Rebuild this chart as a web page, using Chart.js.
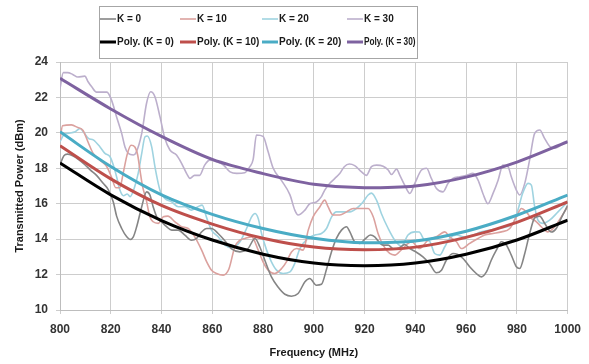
<!DOCTYPE html>
<html>
<head>
<meta charset="utf-8">
<script src="https://cdn.jsdelivr.net/npm/chart.js@4.4.7/dist/chart.umd.min.js"></script>
<style>
    html, body { margin: 0; padding: 0; background: #ffffff; }
    #wrap { width: 589px; height: 364px; }
</style>
</head>
<body>
<div id="wrap"><canvas id="power"></canvas></div>
<script>

// Measured transmitted power (dBm) versus frequency (MHz), one pair of arrays per K value.
const k0Freq  = [800, 801.5, 803, 805, 807.2, 809.8, 812, 814.4, 817, 819, 821, 822.3, 824.3, 826.3, 827.6, 828.9, 830.2, 832.2, 834.1, 835.4, 836.7, 838.1, 840, 842, 844, 846.6, 849.2, 851.8, 853.8, 855.8, 857.8, 859.7, 862.3, 865, 867.6, 870.9, 874.1, 876.8, 878.7, 880.7, 883.3, 885.9, 888.6, 891.2, 893.8, 896.5, 898.4, 901, 903, 905, 907, 908.9, 910.9, 912.9, 914.2, 916.1, 918.1, 920.1, 922.3, 924, 925.3, 927.3, 929.3, 931.2, 933.5, 935.8, 937.8, 940, 943, 945.7, 948.3, 950.3, 952.2, 954.8, 956.5, 958.8, 961.4, 964, 966, 968, 969.9, 971.9, 973.9, 975.9, 977.8, 979.8, 981.1, 983.1, 985, 987, 989, 990.9, 993.6, 995.5, 997.5, 1000];
const k0Power = [18.2, 18.7, 18.8, 18.7, 18.5, 18.2, 17.9, 17.6, 17.15, 16.8, 16.1, 15.3, 14.6, 14.13, 13.98, 14.13, 14.7, 15.83, 16.67, 16.5, 15.83, 15.26, 14.98, 14.7, 14.51, 14.51, 14.23, 13.94, 14.04, 14.41, 14.6, 14.6, 14.32, 13.9, 13.45, 13.28, 13.47, 14.04, 13.57, 12.81, 11.87, 11.3, 10.89, 10.78, 10.93, 11.59, 11.78, 11.4, 11.45, 12.3, 13.3, 14.04, 14.51, 14.7, 14.41, 13.85, 13.76, 14.0, 14.23, 14.13, 13.9, 13.66, 13.66, 13.47, 13.5, 13.7, 13.47, 13.3, 13.0, 12.6, 12.1, 12.25, 12.81, 13.19, 13.15, 12.91, 12.44, 12.06, 11.87, 12.15, 12.81, 13.38, 13.85, 13.66, 13.1, 12.44, 12.34, 13.19, 14.3, 15.2, 15.3, 14.9, 14.4, 14.6, 15.2, 15.9];

const k10Freq  = [800, 801, 804.5, 807, 809, 811, 813, 815.7, 818.4, 820.3, 822, 823.5, 825, 826.5, 828, 829.5, 830.6, 831.5, 832.5, 834, 835.4, 836.7, 838.7, 840.7, 842.5, 845.3, 847.9, 850.5, 853.1, 855.8, 857.8, 859.7, 861.7, 864.3, 866.5, 868.9, 870.9, 872.8, 875.5, 878.1, 880, 882, 884.6, 887.3, 889.2, 891.2, 893.2, 895.8, 897.8, 899.7, 902.4, 904.3, 905.6, 907.6, 910.2, 912.9, 915.5, 918.8, 921.4, 923.4, 925.3, 927.3, 929.9, 931.9, 934.5, 938.5, 941.7, 945, 948.3, 951.6, 953.5, 956.2, 958.1, 961.4, 964.7, 967.3, 970.6, 973.9, 977.2, 979.8, 981.8, 983.7, 985.7, 987.7, 989.6, 992.2, 994.9, 997.5, 1000];
const k10Power = [19.6, 20.4, 20.45, 20.3, 20.15, 19.5, 18.85, 18.46, 18.1, 17.5, 16.9, 16.9, 17.8, 18.8, 19.3, 19.2, 18.75, 17.9, 17.0, 16.2, 15.26, 14.98, 14.89, 15.26, 15.3, 14.98, 14.7, 14.6, 14.13, 13.38, 12.72, 12.25, 12.06, 11.97, 12.3, 13.57, 13.94, 14.04, 14.13, 13.38, 12.72, 12.25, 12.06, 12.34, 12.72, 13.28, 13.47, 13.38, 14.51, 15.26, 15.83, 16.2, 15.83, 15.36, 15.36, 15.54, 15.73, 15.73, 15.73, 15.26, 14.32, 13.66, 13.19, 13.1, 13.4, 13.85, 13.47, 13.94, 14.13, 14.41, 14.13, 13.85, 13.47, 13.76, 14.04, 14.23, 14.32, 14.41, 14.6, 15.26, 15.73, 15.54, 15.17, 14.98, 14.7, 14.41, 14.7, 15.26, 15.83];

const k20Freq  = [800, 801.5, 803, 806, 807.9, 809.5, 811.2, 813.1, 815.7, 817.7, 819.7, 821, 822.3, 823.6, 825, 826.5, 827.6, 829.3, 830.8, 832.2, 833.5, 834.4, 836.1, 837.4, 838.7, 839.6, 841.3, 844, 846.6, 849.2, 851.8, 854.4, 856, 857.8, 859.7, 862.3, 865, 867.6, 870.9, 873.5, 875.5, 876.8, 878.1, 879.4, 881.4, 883.3, 885.3, 887.9, 890.6, 892.5, 894.5, 897.8, 900.4, 903, 905, 907, 908.9, 911.5, 914.2, 916.8, 919.4, 921.4, 922.7, 924.7, 926.6, 929.3, 931.9, 934.5, 937.1, 939.8, 941.5, 943.7, 945.5, 947.6, 949.6, 951.6, 953.5, 956.2, 959.4, 962.7, 966, 969.3, 972.6, 975.9, 978.5, 980.4, 982.3, 984.4, 985.7, 987, 988.3, 990.3, 992.9, 996.2, 1000];
const k20Power = [19.5, 19.9, 19.97, 20.06, 20.25, 20.0, 19.69, 19.6, 19.22, 18.84, 18.65, 18.18, 17.52, 16.77, 16.45, 16.55, 16.4, 16.9, 17.71, 18.84, 19.78, 19.82, 19.22, 18.09, 17.15, 16.67, 16.3, 16.1, 15.83, 15.83, 15.64, 15.83, 15.92, 15.2, 14.51, 14.13, 13.66, 13.5, 13.85, 14.6, 15.26, 15.45, 15.17, 14.32, 13.38, 12.72, 12.25, 12.06, 12.15, 12.63, 13.47, 14.04, 14.23, 14.32, 14.6, 15.26, 15.54, 15.54, 15.54, 15.73, 16.1, 16.49, 16.6, 16.2, 15.45, 14.6, 13.94, 13.6, 14.23, 14.41, 14.4, 13.94, 13.9, 13.19, 13.1, 13.57, 14.04, 14.23, 14.13, 14.23, 14.41, 14.51, 14.6, 14.7, 14.89, 15.64, 16.6, 17.15, 17.05, 15.83, 15.07, 14.89, 15.07, 15.54, 16.1];

const k30Freq  = [800, 801.3, 803, 805, 807, 809.8, 811, 812.5, 814.4, 816.5, 818.5, 820.3, 822.3, 824.3, 825.6, 826.9, 828.9, 830, 832.2, 834.1, 835.7, 837.4, 839.4, 841.3, 843.3, 845.9, 847.9, 849.9, 851.2, 853, 855, 857, 859, 861.7, 864.3, 867, 869.6, 872.8, 874.8, 876.1, 877.4, 880, 882, 884, 887.3, 890.6, 892.5, 893.8, 896.5, 898.4, 901, 903, 904.3, 906.3, 908.3, 910.2, 912, 914, 916.1, 918.8, 920.7, 922.7, 924.7, 927.3, 929.3, 930.6, 932.6, 933.9, 935.8, 937.8, 939.8, 942.4, 944.4, 946.3, 948.3, 950.9, 952.9, 954.8, 957.5, 960.1, 962.7, 964.7, 966.6, 968.6, 970.6, 972.6, 974.5, 976.5, 977.8, 979.8, 981.1, 983.1, 985, 987, 989, 990.9, 993, 994.9, 997.5, 1000];
const k30Power = [22.5, 23.4, 23.4, 23.3, 23.15, 23.2, 22.9, 22.6, 22.3, 22.3, 22.3, 21.85, 20.9, 19.97, 19.2, 18.84, 18.75, 18.9, 19.97, 21.67, 22.32, 22.04, 20.9, 19.69, 19.03, 18.75, 18.28, 17.7, 17.43, 17.6, 17.6, 18.18, 18.46, 18.37, 18.2, 17.8, 17.71, 17.75, 18.09, 18.5, 19.88, 19.8, 18.93, 18.0, 17.3, 16.5, 15.64, 15.36, 15.64, 16.0, 16.1, 16.4, 16.77, 17.15, 17.43, 17.7, 18.09, 18.24, 18.15, 17.8, 17.6, 18.09, 18.18, 18.12, 17.9, 17.65, 17.95, 17.6, 17.05, 16.58, 17.15, 17.9, 18.0, 17.43, 16.86, 16.67, 17.15, 17.43, 17.52, 17.6, 17.71, 17.33, 16.58, 16.0, 16.58, 17.33, 18.18, 18.09, 17.52, 16.77, 16.49, 17.15, 18.46, 19.97, 20.16, 19.69, 19.22, 19.13, 19.31, 19.5];

// Polynomial trendlines, every 20 MHz.
const polyFreq = [800, 820, 840, 860, 880, 900, 920, 940, 960, 980, 1000];
const poly0  = [18.3, 16.5, 15.05, 13.95, 13.15, 12.65, 12.5, 12.65, 13.15, 13.95, 15.07];
const poly10 = [19.27, 17.4, 15.9, 14.85, 14.05, 13.55, 13.4, 13.55, 14.1, 14.95, 16.1];
const poly20 = [20.06, 18.1, 16.5, 15.4, 14.6, 14.05, 13.8, 13.9, 14.45, 15.35, 16.49];
const poly30 = [23.08, 21.35, 19.8, 18.5, 17.7, 17.1, 16.9, 17.0, 17.5, 18.35, 19.5];

const FONT = "'Liberation Sans', Arial, sans-serif";

function toPoints(xs, ys) {
    return xs.map(function (x, i) { return { x: x, y: ys[i] }; });
}

function rawSet(label, xs, ys, color) {
    return {
        label: label,
        data: toPoints(xs, ys),
        borderColor: color,
        borderWidth: 1.6,
        pointRadius: 0,
        cubicInterpolationMode: 'monotone',
        order: 1
    };
}

function polySet(label, ys, color) {
    return {
        label: label,
        data: toPoints(polyFreq, ys),
        borderColor: color,
        borderWidth: 3,
        pointRadius: 0,
        cubicInterpolationMode: 'monotone',
        order: 0
    };
}

// Excel style legend: boxed, four columns, two rows.
const boxLegend = {
    id: 'boxLegend',
    afterDraw: function (chart) {
        const ctx = chart.ctx;
        const cols = [100, 180, 262, 347];
        const rows = [19, 42];
        const box = { x: 99.5, y: 6.5, w: 318, h: 52 };

        ctx.save();
        ctx.strokeStyle = '#a6a6a6';
        ctx.lineWidth = 1;
        ctx.strokeRect(box.x, box.y, box.w, box.h);

        ctx.font = 'bold 10px ' + FONT;
        ctx.textBaseline = 'middle';
        ctx.textAlign = 'left';

        chart.data.datasets.forEach(function (ds, i) {
            const x = cols[i % 4];
            const y = rows[Math.floor(i / 4)];
            ctx.strokeStyle = ds.borderColor;
            ctx.lineWidth = ds.borderWidth;
            ctx.beginPath();
            ctx.moveTo(x, y);
            ctx.lineTo(x + 16, y);
            ctx.stroke();

            // squeeze the text when it would run past the box
            const tx = x + 17;
            const room = box.x + box.w - 2 - tx;
            const w = ctx.measureText(ds.label).width;
            ctx.fillStyle = '#1a1a1a';
            if (w > room) {
                ctx.save();
                ctx.translate(tx, y + 0.5);
                ctx.scale(room / w, 1);
                ctx.fillText(ds.label, 0, 0);
                ctx.restore();
            } else {
                ctx.fillText(ds.label, tx, y + 0.5);
            }
        });
        ctx.restore();
    }
};

const ctx = document.getElementById('power');

const data = {
    datasets: [
        rawSet('K = 0',  k0Freq,  k0Power,  '#858585'),
        rawSet('K = 10', k10Freq, k10Power, '#dba19e'),
        rawSet('K = 20', k20Freq, k20Power, '#9fd3e0'),
        rawSet('K = 30', k30Freq, k30Power, '#bcafcc'),
        polySet('Poly. (K = 0)',  poly0,  '#000000'),
        polySet('Poly. (K = 10)', poly10, '#be4f4b'),
        polySet('Poly. (K = 20)', poly20, '#4aacc5'),
        polySet('Poly. (K = 30)', poly30, '#7e62a0')
    ]
};

const options = {
    responsive: true,
    maintainAspectRatio: false,
    animation: false,
    layout: {
        padding: { top: 62, right: 21, left: 0, bottom: 0 }
    },
    plugins: {
        legend: { display: false },
        tooltip: { enabled: false }
    },
    scales: {
        x: {
            type: 'linear',
            min: 800,
            max: 1000,
            afterFit: function (scale) { scale.height = 54; },
            ticks: {
                stepSize: 20,
                padding: 8,
                color: '#333333',
                font: { family: FONT, size: 12, weight: 'bold' },
                callback: function (value) { return String(value); }
            },
            grid: { color: '#cdcdcd', tickLength: 4 },
            border: { color: '#bdbdbd' },
            title: {
                display: true,
                text: 'Frequency (MHz)',
                color: '#1a1a1a',
                padding: { top: 0, bottom: 4 },
                font: { family: FONT, size: 11, weight: 'bold' }
            }
        },
        y: {
            min: 10,
            max: 24,
            afterFit: function (scale) { scale.width = 60; },
            ticks: {
                stepSize: 2,
                padding: 8,
                color: '#333333',
                font: { family: FONT, size: 12, weight: 'bold' }
            },
            grid: { color: '#cdcdcd', tickLength: 4 },
            border: { color: '#bdbdbd' },
            title: {
                display: true,
                text: 'Transmitted Power (dBm)',
                color: '#1a1a1a',
                padding: { top: 13, bottom: 0 },
                font: { family: FONT, size: 11, weight: 'bold' }
            }
        }
    }
};

new Chart(ctx, { type: 'line', data: data, options: options, plugins: [boxLegend] });

</script>
</body>
</html>
